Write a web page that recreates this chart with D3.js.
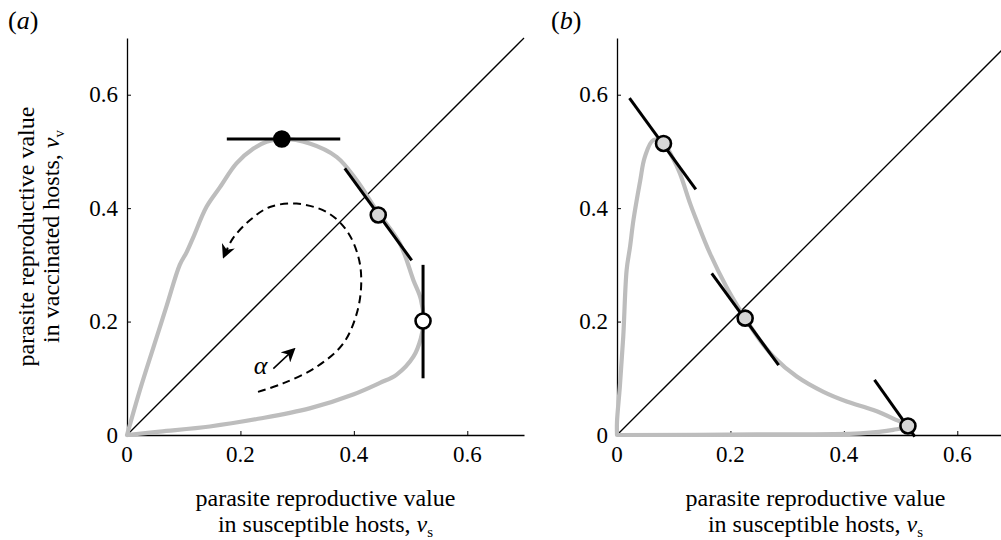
<!DOCTYPE html>
<html><head><meta charset="utf-8">
<script src="https://cdn.jsdelivr.net/npm/d3@7"></script>
<style>
html,body{margin:0;padding:0;background:#fff;}
svg{display:block;font-family:"Liberation Serif","Times New Roman",serif;}
</style></head><body>
<svg id="c" width="1001" height="540"></svg>
<script>
// ---------- data ----------
const tickValues = [0, 0.2, 0.4, 0.6];
const tickLabels = ["0", "0.2", "0.4", "0.6"];
const axisMax = 0.7;

// panel (a) grey curve (v_s, v_v)
const curveA_vs = [0,0.023,0.047,0.07,0.093,0.105,0.117,0.14,0.164,0.193,0.223,0.246,0.273,0.322,0.37,0.405,0.44,0.481,0.505,0.518,0.523,0.518,0.505,0.475,0.446,0.4,0.322,0.234,0.146,0.058,0];
const curveA_vv = [0,0.08,0.156,0.228,0.3,0.322,0.349,0.402,0.437,0.479,0.505,0.517,0.522,0.514,0.49,0.449,0.396,0.338,0.273,0.24,0.2,0.17,0.138,0.106,0.092,0.072,0.047,0.029,0.015,0.006,0];

// panel (a) dashed alpha path
const dashA_vs = [0.231,0.275,0.334,0.381,0.405,0.413,0.408,0.387,0.352,0.299,0.252,0.217,0.187,0.173];
const dashA_vv = [0.076,0.091,0.12,0.161,0.214,0.267,0.314,0.361,0.393,0.408,0.402,0.379,0.347,0.32];

// small alpha arrow
const alphaArrow_vs = [0.258, 0.29];
const alphaArrow_vv = [0.117, 0.147];

// panel (a) marked points and tangents
const ptsA_vs = [0.273, 0.443, 0.522];
const ptsA_vv = [0.522, 0.388, 0.201];
const ptsA_fill = ["black", "grey", "white"];
const tanA_vs0 = [0.176, 0.384, 0.522], tanA_vv0 = [0.522, 0.47, 0.3];
const tanA_vs1 = [0.376, 0.502, 0.522], tanA_vv1 = [0.522, 0.308, 0.1];

// panel (b) grey curve
const curveB_vs = [0,0,0.005,0.011,0.017,0.023,0.029,0.041,0.049,0.064,0.082,0.099,0.111,0.129,0.14,0.164,0.193,0.217,0.252,0.276,0.317,0.364,0.405,0.452,0.487,0.513,0.487,0.429,0.246,0];
const curveB_vv = [0,0.023,0.085,0.173,0.291,0.332,0.379,0.449,0.49,0.52,0.514,0.487,0.461,0.408,0.379,0.32,0.261,0.22,0.167,0.138,0.103,0.076,0.059,0.044,0.029,0.016,0.009,0.003,0.001,0];

// panel (b) marked points and tangents
const ptsB_vs = [0.082, 0.226, 0.513];
const ptsB_vv = [0.514, 0.206, 0.016];
const ptsB_fill = ["grey", "grey", "grey"];
const tanB_vs0 = [0.022, 0.167, 0.454], tanB_vv0 = [0.594, 0.285, 0.097];
const tanB_vs1 = [0.139, 0.285, 0.525], tanB_vv1 = [0.433, 0.123, -0.003];

// ---------- drawing ----------
const svg = d3.select("#c");
const fillMap = {black:"#000", grey:"#d6d6d6", white:"#fff"};
const GREY = "#bdbdbd";

const defs = svg.append("defs");
defs.append("marker").attr("id","ah").attr("viewBox","0 0 10 10")
  .attr("refX",6).attr("refY",5).attr("markerWidth",14).attr("markerHeight",14)
  .attr("markerUnits","userSpaceOnUse").attr("orient","auto")
  .append("path").attr("d","M0,0 L10,5 L0,10 L3,5 Z").attr("fill","#000");

function panel(x0, label, opts){
  const x = d3.scaleLinear().domain([0, axisMax]).range([x0, x0 + 397]);
  const y = d3.scaleLinear().domain([0, axisMax]).range([435, 38]);
  const g = svg.append("g");

  // diagonal
  g.append("line").attr("x1", x(0)).attr("y1", y(0)).attr("x2", x(axisMax)).attr("y2", y(axisMax))
    .attr("stroke","#000").attr("stroke-width",1.3);

  // axes
  const xa = g.append("g").attr("transform",`translate(0,${y(0)})`)
    .call(d3.axisBottom(x).tickValues(tickValues).tickSize(-4).tickSizeOuter(0).tickFormat(""));
  const ya = g.append("g").attr("transform",`translate(${x(0)},0)`)
    .call(d3.axisLeft(y).tickValues(tickValues).tickSize(-4).tickSizeOuter(0).tickFormat(""));
  [xa, ya].forEach(a => { a.select(".domain").attr("stroke","#000").attr("stroke-width",1.3);
    a.selectAll(".tick line").attr("stroke","#000").attr("stroke-width",1); });

  // tick labels
  g.selectAll(".xt").data(tickValues).join("text")
    .attr("x", d => x(d)).attr("y", y(0) + 27).attr("text-anchor","middle")
    .attr("font-size",23).text((d,i) => tickLabels[i]);
  g.selectAll(".yt").data(tickValues).join("text")
    .attr("x", x(0) - 9).attr("y", d => y(d)).attr("dy","0.33em").attr("text-anchor","end")
    .attr("font-size",23).text((d,i) => tickLabels[i]);

  const line = d3.line().x(d => x(d[0])).y(d => y(d[1])).curve(d3.curveCatmullRom.alpha(0.5));

  // grey curve
  const pts = opts.cvs.map((v,i) => [v, opts.cvv[i]]);
  g.append("path").attr("d", line(pts)).attr("fill","none").attr("stroke",GREY)
    .attr("stroke-width",4.2).attr("stroke-linejoin","round").attr("stroke-linecap","round");

  // dashed path
  if (opts.dvs){
    const dp = opts.dvs.map((v,i) => [v, opts.dvv[i]]);
    g.append("path").attr("d", line(dp)).attr("fill","none").attr("stroke","#000")
      .attr("stroke-width",2).attr("stroke-dasharray","8,5").attr("marker-end","url(#ah)");
    g.append("line").attr("x1", x(alphaArrow_vs[0])).attr("y1", y(alphaArrow_vv[0]))
      .attr("x2", x(alphaArrow_vs[1])).attr("y2", y(alphaArrow_vv[1]))
      .attr("stroke","#000").attr("stroke-width",1.5).attr("marker-end","url(#ah)");
    g.append("text").attr("x", x(alphaArrow_vs[0]) - 6).attr("y", y(alphaArrow_vv[0]) + 5)
      .attr("text-anchor","end").attr("font-size",26).attr("font-style","italic").text("α");
  }

  // tangent segments
  opts.t0s.forEach((v,i) => {
    g.append("line").attr("x1", x(v)).attr("y1", y(opts.t0v[i]))
      .attr("x2", x(opts.t1s[i])).attr("y2", y(opts.t1v[i]))
      .attr("stroke","#000").attr("stroke-width",3);
  });
  // points
  opts.pvs.forEach((v,i) => {
    g.append("circle").attr("cx", x(v)).attr("cy", y(opts.pvv[i])).attr("r",7.5)
      .attr("fill", fillMap[opts.pf[i]]).attr("stroke","#000").attr("stroke-width",2.6);
  });

  // x label
  const xc = (x(0) + x(axisMax)) / 2;
  g.append("text").attr("x", xc).attr("y", 506).attr("text-anchor","middle").attr("font-size",24)
    .text("parasite reproductive value");
  const t2 = g.append("text").attr("x", xc).attr("y", 532).attr("text-anchor","middle").attr("font-size",24);
  t2.append("tspan").text("in susceptible hosts, ");
  t2.append("tspan").attr("font-style","italic").text("v");
  t2.append("tspan").attr("font-size",15).attr("dy",5).text("s");

  // panel label
  const pl = svg.append("text").attr("x", opts.lx).attr("y", 29).attr("font-size",26);
  pl.append("tspan").text("(");
  pl.append("tspan").attr("font-style","italic").text(label);
  pl.append("tspan").text(")");

  return {x, y};
}

const A = panel(127, "a", {cvs:curveA_vs, cvv:curveA_vv, dvs:dashA_vs, dvv:dashA_vv,
  pvs:ptsA_vs, pvv:ptsA_vv, pf:ptsA_fill, t0s:tanA_vs0, t0v:tanA_vv0, t1s:tanA_vs1, t1v:tanA_vv1, lx:8});
const B = panel(617, "b", {cvs:curveB_vs, cvv:curveB_vv,
  pvs:ptsB_vs, pvv:ptsB_vv, pf:ptsB_fill, t0s:tanB_vs0, t0v:tanB_vv0, t1s:tanB_vs1, t1v:tanB_vv1, lx:551});

// y label panel (a)
const yc = (435 + 38) / 2;
svg.append("text").attr("transform",`translate(34,${yc}) rotate(-90)`).attr("text-anchor","middle")
  .attr("font-size",24).text("parasite reproductive value");
const yl2 = svg.append("text").attr("transform",`translate(59,${yc}) rotate(-90)`).attr("text-anchor","middle")
  .attr("font-size",24);
yl2.append("tspan").text("in vaccinated hosts, ");
yl2.append("tspan").attr("font-style","italic").text("v");
yl2.append("tspan").attr("font-size",15).attr("dy",5).text("v");
</script>
</body></html>
